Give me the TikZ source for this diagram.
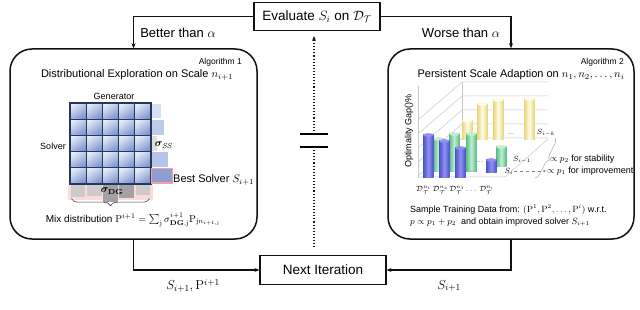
\RequirePackage{fix-cm}
\documentclass[tikz,border=0pt]{standalone}
\usepackage{amsmath,amssymb,bm}
\usepackage[no-math]{fontspec}
\setmainfont{Liberation Sans}
\usepackage{tikz}
\usetikzlibrary{arrows.meta,positioning,calc,decorations.pathreplacing}
\definecolor{linec}{HTML}{111111}
\definecolor{navyc}{HTML}{27375A}
\definecolor{cellhi}{HTML}{E2E9F7}
\definecolor{celllo}{HTML}{7F96CE}
\definecolor{ssa}{HTML}{D8E0F3}
\definecolor{ssb}{HTML}{BECBEB}
\definecolor{ssc}{HTML}{B5C5E9}
\definecolor{bestc}{HTML}{8F9DD2}
\definecolor{glowc}{HTML}{F4A3A3}
\definecolor{dgl}{HTML}{CDCACB}
\definecolor{dgd}{HTML}{A3A1A3}
\definecolor{wallc}{HTML}{C8C8C8}
\definecolor{bluea}{HTML}{4A52C8}
\definecolor{blueb}{HTML}{9090F2}
\definecolor{greena}{HTML}{58BA82}
\definecolor{greenb}{HTML}{BDEFD0}
\definecolor{yela}{HTML}{E6D57A}
\definecolor{yelb}{HTML}{FFFCE6}
\tikzset{
  >={Stealth[length=5pt,width=4pt]},
  flowbox/.style={draw=linec,line width=1.1pt,fill=white,minimum width=126pt,minimum height=28pt,inner sep=0pt,font=\fontsize{13.5}{15}\selectfont},
  algbox/.style={draw=linec,line width=1.5pt,rounded corners=22pt,minimum width=247pt,minimum height=190pt,inner sep=0pt},
  ptr/.style={->,line width=1.1pt,draw=linec},
  lab/.style={font=\fontsize{13}{15}\selectfont,inner sep=1pt},
  title/.style={font=\fontsize{11}{13}\selectfont,inner sep=1pt},
  algno/.style={font=\fontsize{8.5}{10}\selectfont,inner sep=1pt},
  note/.style={font=\fontsize{9}{11}\selectfont,inner sep=1pt},
  tiny/.style={font=\fontsize{7.5}{9}\selectfont,inner sep=0.5pt},
  gcell/.style={draw=navyc,line width=1.3pt,minimum size=16.2pt,inner sep=0pt,top color=cellhi,bottom color=celllo,shading angle=35},
  glow/.style={draw=glowc,line width=1.4pt},
  wall/.style={draw=wallc,line width=0.5pt},
  dotln/.style={dotted,line width=1.1pt,draw=linec},
}
\newcommand{\cylbar}[5]{%
  \shade[left color=#4,right color=#4,middle color=#5] (#1,#3) rectangle ({#1+10.5},#2);
  \fill[#5] ({#1+5.25},#2) ellipse (5.25pt and 1.8pt);}

\begin{document}
\begin{tikzpicture}[x=1pt,y=-1pt]
  \useasboundingbox (0,0) rectangle (640,310);
  \node[flowbox] (eval) at (317,16.5) {Evaluate $S_i$ on $\mathcal{D}_{\mathcal{T}}$};
  \node[flowbox,minimum height=29pt] (next) at (323,270) {Next Iteration};
  \node[algbox] (algA) at (133.5,144) {};
  \node[algbox,minimum width=246pt] (algB) at (511,144) {};
  \draw[ptr] (eval.west) -| (algA.north);
  \draw[ptr] (eval.east) -| (algB.north);
  \draw[ptr] (algA.south) |- (next.west);
  \draw[ptr] (algB.south) |- (next.east);
  \node[lab] (better) at (178,33) {Better than $\alpha$};
  \node[lab] (worse) at (461,33) {Worse than $\alpha$};
  \node[lab] (outA) at (193,286) {$S_{i+1},\mathrm{P}^{i+1}$};
  \node[lab] (outB) at (449,286) {$S_{i+1}$};
  % stop sign between the two branches
  \coordinate (capt) at (314,134);
  \coordinate (capb) at (314,147);
  \draw[line width=1.1pt] ([xshift=-14pt]capt) -- ([xshift=14pt]capt) ([xshift=-14pt]capb) -- ([xshift=14pt]capb);
  \draw[dotln,->,shorten <=3pt,shorten >=5pt] (capt) -- (capt |- eval.south);
  \draw[dotln,shorten >=8pt] (capb) -- (capb |- next.north);
  % Algorithm 1
  \node[algno,anchor=east] (algAno) at (243,62) {Algorithm 1};
  \node[title] (algAt) at (137,75) {Distributional Exploration on Scale $n_{i+1}$};
  \node[note] (gen) at (114,96) {Generator};
  \node[note] (solv) at (53,146) {Solver};
  \foreach \r in {0,...,4}
    \foreach \c in {0,...,4}
      \node[gcell] (g-\r-\c) at ({78.1+16.2*\c},{111.1+16.2*\r}) {};
  \fill[ssa] ([yshift=-1.5pt]g-0-4.north east) rectangle ([xshift=9pt,yshift=1.5pt]g-0-4.south east);
  \fill[ssb] ([yshift=-1.5pt]g-1-4.north east) rectangle ([xshift=12pt,yshift=1.5pt]g-1-4.south east);
  \fill[gray!25] ([yshift=-1.5pt]g-2-4.north east) rectangle ([xshift=5pt,yshift=1.5pt]g-2-4.south east);
  \fill[ssc] ([yshift=-1.5pt]g-3-4.north east) rectangle ([xshift=16pt,yshift=1.5pt]g-3-4.south east);
  \filldraw[glow,fill=bestc] ([yshift=-1.5pt]g-4-4.north east) rectangle ([xshift=21pt,yshift=1.5pt]g-4-4.south east);
  \node[font=\fontsize{10.5}{12}\selectfont,inner sep=0pt] (ss) at (164,145) {$\boldsymbol{\sigma}_{\mathit{SS}}$};
  \node[title,anchor=west] (best) at (172,180) {Best Solver $S_{i+1}$};
  \fill[glowc!40] ([xshift=-1pt]g-4-0.south west) rectangle ([xshift=1pt,yshift=-15pt]g-4-4.south east);
  \foreach \c/\h/\col in {0/12/dgl,1/11/dgl,2/17/dgd,3/13/dgd,4/10/dgl}
    \fill[\col] ([xshift=1.5pt]g-4-\c.south west) rectangle ([xshift=-1.5pt,yshift=-\h pt]g-4-\c.south east);
  \node[font=\fontsize{10.5}{12}\selectfont,inner sep=0pt] (dg) at (112,191) {$\boldsymbol{\sigma}_{\mathbf{DG}}$};
  \draw[decorate,decoration={brace,mirror,amplitude=7pt},draw=linec!80,line width=0.6pt]
    ([xshift=2pt,yshift=-14pt]g-4-0.south west) -- ([xshift=-2pt,yshift=-14pt]g-4-4.south east);
  \node[font=\fontsize{10}{12}\selectfont,inner sep=1pt] (mix) at (133,220)
    {Mix distribution $\mathrm{P}^{i+1}=\sum_{\mathrm{j}}\sigma^{i+1}_{\mathbf{DG},\mathrm{j}}\mathrm{P}_{\mathrm{j}n_{i+1,\mathrm{j}}}$};
  % Algorithm 2
  \node[algno,anchor=east] (algBno) at (625,62) {Algorithm 2};
  \node[title] (algBt) at (521,75) {Persistent Scale Adaption on $n_1,n_2,\dots,n_i$};
  \foreach \k in {0,...,4}
    \draw[wall] (418,{120+14*\k}) -- ++(44,-38) -- ++(86,0);
  \draw[wall] (418,86) -- (418,178);
  \draw[wall] (462,82) -- (462,138);
  \draw[wall] (418,177) -- (505,177) -- (548,139);
  \node[note,rotate=90] (ylab) at (409,131) {Optimality Gap()\%};
  \cylbar{462}{121}{140}{yela}{yelb}
  \cylbar{477}{104}{140}{yela}{yelb}
  \cylbar{493}{100}{140}{yela}{yelb}
  \cylbar{524}{99}{140}{yela}{yelb}
  \cylbar{433}{139}{172}{greena}{greenb}
  \cylbar{449}{134}{172}{greena}{greenb}
  \cylbar{466}{134}{172}{greena}{greenb}
  \cylbar{496}{147}{167}{greena}{greenb}
  \cylbar{423}{135}{178}{bluea}{blueb}
  \cylbar{439}{141}{178}{bluea}{blueb}
  \cylbar{455}{148}{178}{bluea}{blueb}
  \cylbar{486}{160}{173}{bluea}{blueb}
  \node[tiny,text=gray] (dots1) at (511,134) {...};
  \node[tiny,text=gray] (dots2) at (480,162) {...};
  \node[tiny,text=gray] (dots3) at (474,172) {...};
  \node[tiny] (sk) at (546,133) {$S_{i-k}$};
  \node[tiny] (s1) at (522,160) {$S_{i-1}$};
  \node[tiny] (s0) at (509,171) {$S_i$};
  \draw[decorate,decoration={brace,amplitude=5pt},draw=gray!70,line width=0.5pt] (555,138) -- (535,178);
  \node[note,anchor=west] (p2) at (549,159) {$\propto p_2$ for stability};
  \node[note,anchor=west] (p1) at (546,171) {$\propto p_1$ for improvement};
  \draw[->,dashed,draw=gray,line width=0.5pt,>={Stealth[length=3pt,width=2.5pt]}] (s0.east) -- (p1.west);
  \node[font=\fontsize{7.5}{9}\selectfont,inner sep=0pt,anchor=west] (dlab) at (416,190)
    {$\mathcal{D}_{\mathcal{T}}^{n_1}\,\mathcal{D}_{\mathcal{T}}^{n_2}\,\mathcal{D}_{\mathcal{T}}^{n_3}\dots\,\mathcal{D}_{\mathcal{T}}^{n_i}$};
  \node[note,anchor=west] (samp1) at (409,210) {Sample Training Data from: $(\mathrm{P}^1,\mathrm{P}^2,\dots,\mathrm{P}^i)$ w.r.t.};
  \node[note,anchor=west] (samp2) at (409,222) {$p\propto p_1+p_2$\ \ and obtain improved solver $S_{i+1}$};
\end{tikzpicture}
\end{document}
